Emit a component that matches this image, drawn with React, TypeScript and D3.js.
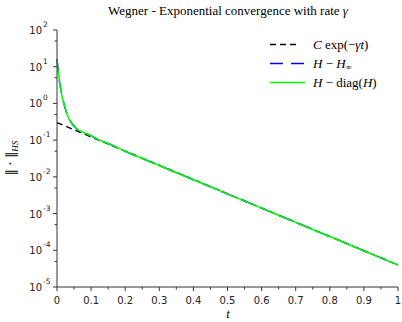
import React from 'react';
import * as d3 from 'd3';

// H - diag(H)
const tValues = [0, 0.004, 0.008, 0.0125, 0.0175, 0.025, 0.032, 0.04, 0.056, 0.075, 0.095, 0.12, 0.15, 0.2, 0.3, 0.4, 0.5, 0.6, 0.7, 0.8, 0.9, 1.0];
const diagValues = [15, 7, 3.5, 2.0, 1.24, 0.68, 0.44, 0.32, 0.21, 0.166, 0.138, 0.105, 0.081, 0.0497, 0.0204, 0.00836, 0.00343, 0.00141, 0.000577, 0.000237, 0.000097, 0.0000398];
// H - H_inf, almost on top of the green one
const infValues = [16, 7.2, 3.6, 2.05, 1.26, 0.69, 0.445, 0.322, 0.211, 0.166, 0.138, 0.105, 0.081, 0.0497, 0.0204, 0.00836, 0.00343, 0.00141, 0.000577, 0.000237, 0.000097, 0.0000398];
// C exp(-gamma t) is a straight line on the log axis
const fitT = [0, 1];
const fitValues = [0.3, 0.0000398];

const xTicks = [0, 0.1, 0.2, 0.3, 0.4, 0.5, 0.6, 0.7, 0.8, 0.9, 1];
const yExponents = [2, 1, 0, -1, -2, -3, -4, -5];

const W = 402;
const H = 322;
const margin = { top: 30, right: 4, bottom: 35, left: 57 };

const serif = '"Liberation Serif", "DejaVu Serif", serif';
const sans = '"DejaVu Sans", sans-serif';

export default function App() {
  const x = d3.scaleLinear().domain([0, 1]).range([margin.left, W - margin.right]);
  const y = d3.scaleLog().domain([1e-5, 1e2]).range([H - margin.bottom, margin.top]);

  const line = d3
    .line<[number, number]>()
    .x((d) => x(d[0]))
    .y((d) => y(d[1]))
    .curve(d3.curveMonotoneX);

  const zip = (ts: number[], vs: number[]) => ts.map((t, i) => [t, vs[i]] as [number, number]);

  const minorX = d3.range(0.05, 1, 0.1);
  const minorY = yExponents.slice(1).map((e) => 5 * Math.pow(10, e));
  const y0 = H - margin.bottom;

  const legend = [
    { color: '#000', dash: '6,4' },
    { color: '#0000ff', dash: '13,8' },
    { color: '#00ff00', dash: '' },
  ];

  return (
    <div style={{ position: 'absolute', left: 0, top: 0 }}>
      <svg width={W} height={H} style={{ display: 'block', background: '#fff' }}>
        <text x={228} y={15} textAnchor="middle" fontFamily={serif} fontSize={13}>
          Wegner - Exponential convergence with rate <tspan fontStyle="italic">γ</tspan>
        </text>

        {/* curves */}
        <path d={line(zip(fitT, fitValues)) || ''} fill="none" stroke="#000" strokeWidth={1.4} strokeDasharray="6,4" />
        <path d={line(zip(tValues, infValues)) || ''} fill="none" stroke="#0000ff" strokeWidth={1.5} strokeDasharray="13,8" />
        <path d={line(zip(tValues, diagValues)) || ''} fill="none" stroke="#00ff00" strokeWidth={1.5} />

        {/* axes */}
        <line x1={margin.left} x2={margin.left} y1={margin.top} y2={y0} stroke="#333" strokeWidth={1} />
        <line x1={margin.left} x2={W - margin.right} y1={y0} y2={y0} stroke="#333" strokeWidth={1} />

        {xTicks.map((t) => (
          <g key={'xt' + t}>
            <line x1={x(t)} x2={x(t)} y1={y0} y2={y0 + 4} stroke="#333" />
            <text x={x(t)} y={y0 + 17} textAnchor="middle" fontFamily={sans} fontSize={10} fill="#222">
              {t}
            </text>
          </g>
        ))}
        {minorX.map((t) => (
          <line key={'xm' + t} x1={x(t)} x2={x(t)} y1={y0} y2={y0 + 2.5} stroke="#333" />
        ))}

        {yExponents.map((e) => (
          <g key={'yt' + e}>
            <line x1={margin.left - 4} x2={margin.left} y1={y(Math.pow(10, e))} y2={y(Math.pow(10, e))} stroke="#333" />
            <text x={42} y={y(Math.pow(10, e)) + 4} textAnchor="end" fontFamily={sans} fontSize={10} fill="#222">
              10
            </text>
            <text x={43} y={y(Math.pow(10, e)) - 3} fontFamily={sans} fontSize={7.5} fill="#222">
              {e < 0 ? '-' + Math.abs(e) : e}
            </text>
          </g>
        ))}
        {minorY.map((v) => (
          <line key={'ym' + v} x1={margin.left - 2.5} x2={margin.left} y1={y(v)} y2={y(v)} stroke="#333" />
        ))}

        {/* axis labels */}
        <text x={228} y={318} textAnchor="middle" fontFamily={serif} fontSize={13} fontStyle="italic">
          t
        </text>
        <text transform="translate(15,158) rotate(-90)" textAnchor="middle" fontFamily='"DejaVu Serif", serif' fontSize={12}>
          ‖ · ‖<tspan fontFamily={serif} fontStyle="italic" fontSize={9} dy={3}>HS</tspan>
        </text>

        {/* legend */}
        {legend.map((l, i) => (
          <line
            key={'lg' + i}
            x1={270}
            x2={i === 0 ? 300 : 305}
            y1={44.5 + i * 19}
            y2={44.5 + i * 19}
            stroke={l.color}
            strokeWidth={1.5}
            strokeDasharray={l.dash}
          />
        ))}
        <text x={313} y={49} fontFamily={serif} fontSize={13}>
          <tspan fontStyle="italic">C</tspan> exp(−<tspan fontStyle="italic">γt</tspan>)
        </text>
        <text x={313} y={68} fontFamily={serif} fontSize={13}>
          <tspan fontStyle="italic">H</tspan> − <tspan fontStyle="italic">H</tspan>
          <tspan fontSize={8.5} dy={2}>∞</tspan>
        </text>
        <text x={313} y={87} fontFamily={serif} fontSize={13}>
          <tspan fontStyle="italic">H</tspan> − diag(<tspan fontStyle="italic">H</tspan>)
        </text>
      </svg>
    </div>
  );
}
